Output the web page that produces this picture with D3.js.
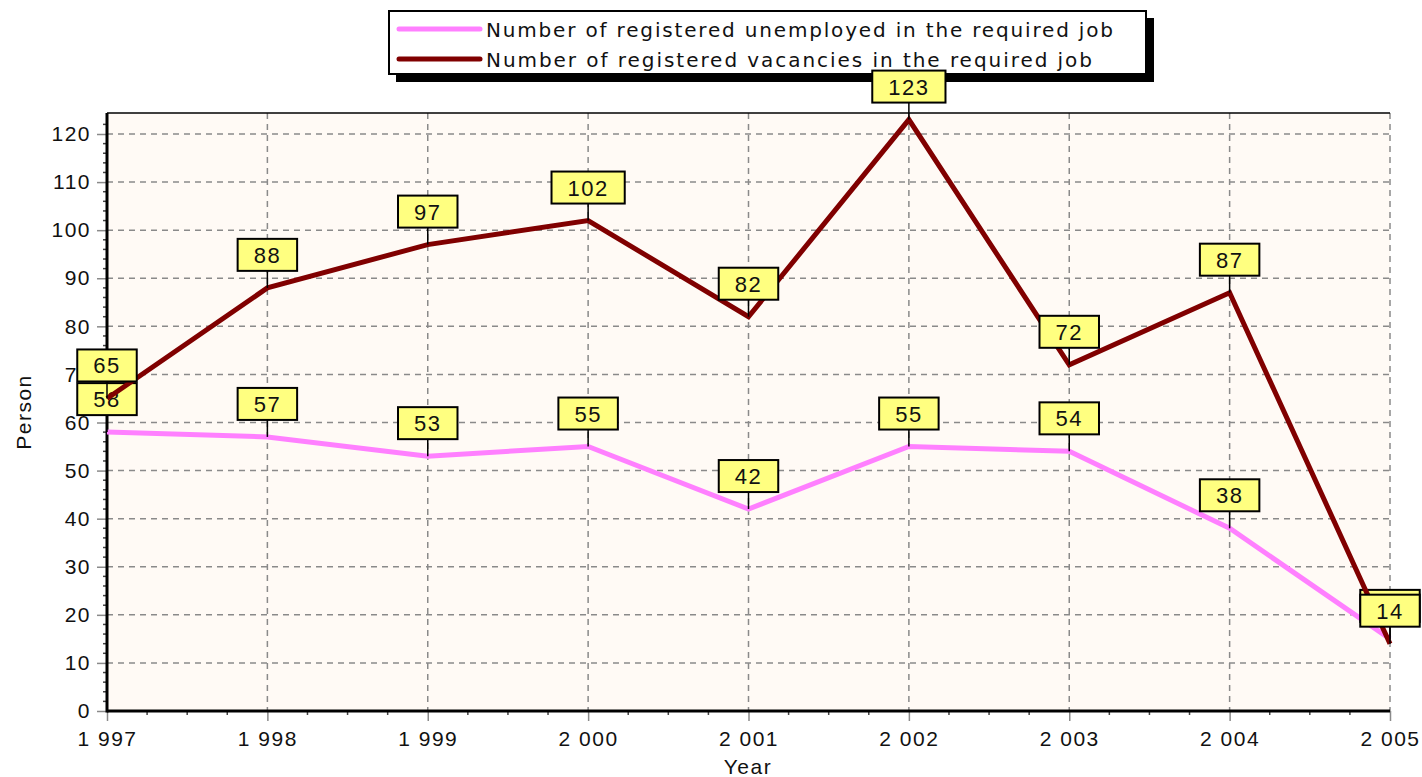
<!DOCTYPE html>
<html>
<head>
<meta charset="utf-8">
<script src="https://cdn.jsdelivr.net/npm/d3@7"></script>
<style>
  body { margin: 0; background: #ffffff; }
  svg { display: block; font-family: "Liberation Sans", Arial, sans-serif; }
</style>
</head>
<body>
<svg id="chart" width="1422" height="777"></svg>
<script>
// data
const years = [1997, 1998, 1999, 2000, 2001, 2002, 2003, 2004, 2005];
const yearLabels = ["1 997", "1 998", "1 999", "2 000", "2 001", "2 002", "2 003", "2 004", "2 005"];
const unemployed = [58, 57, 53, 55, 42, 55, 54, 38, 15];
const vacancies = [65, 88, 97, 102, 82, 123, 72, 87, 14];
const yTicks = [0, 10, 20, 30, 40, 50, 60, 70, 80, 90, 100, 110, 120];
const seriesNames = [
  "Number of registered unemployed in the required job",
  "Number of registered vacancies in the required job"
];
const seriesColors = ["#ff80ff", "#800000"];

const margin = { top: 113, right: 32, bottom: 66, left: 107 };
const width = 1422, height = 777;
const innerW = width - margin.left - margin.right;
const innerH = height - margin.top - margin.bottom;

const svg = d3.select("#chart");

const x = d3.scaleLinear().domain([1997, 2005]).range([margin.left, width - margin.right]);
const y = d3.scaleLinear().domain([0, 120]).range([height - margin.bottom, height - margin.bottom - 577]);

// plot background
svg.append("rect")
  .attr("x", margin.left).attr("y", margin.top)
  .attr("width", innerW).attr("height", innerH)
  .attr("fill", "#fffaf5");

// grid
const grid = svg.append("g").attr("stroke", "#8a8a8a").attr("stroke-width", 1.5).attr("stroke-dasharray", "6,5");
grid.selectAll("line.h").data(yTicks.filter(d => d > 0)).join("line")
  .attr("x1", margin.left).attr("x2", width - margin.right)
  .attr("y1", d => y(d)).attr("y2", d => y(d));
grid.selectAll("line.v").data(years.slice(1)).join("line")
  .attr("class", "v")
  .attr("x1", d => x(d)).attr("x2", d => x(d))
  .attr("y1", margin.top).attr("y2", height - margin.bottom);

// top border
svg.append("line")
  .attr("x1", margin.left).attr("x2", width - margin.right)
  .attr("y1", margin.top).attr("y2", margin.top)
  .attr("stroke", "#000").attr("stroke-width", 1.5);

// y axis
const yAxis = svg.append("g")
  .attr("transform", `translate(${margin.left},0)`)
  .call(d3.axisLeft(y).tickValues(yTicks).tickSize(10).tickPadding(6));
yAxis.select(".domain").remove();
yAxis.selectAll(".tick line").attr("stroke", "#8a8a8a").attr("stroke-width", 1.5);
yAxis.selectAll(".tick text")
  .attr("font-size", 21).attr("fill", "#111")
  .attr("letter-spacing", 1.5)
  .attr("font-family", "Liberation Sans, Arial, sans-serif");
// y minor ticks
svg.append("g").selectAll("line").data(d3.range(0, 124, 2).filter(d => d % 10 !== 0)).join("line")
  .attr("x1", margin.left - 4).attr("x2", margin.left)
  .attr("y1", d => y(d)).attr("y2", d => y(d))
  .attr("stroke", "#444").attr("stroke-width", 1.5);

// x axis
const xAxis = svg.append("g")
  .attr("transform", `translate(0,${height - margin.bottom})`)
  .call(d3.axisBottom(x).tickValues(years).tickFormat((d, i) => yearLabels[i]).tickSize(10).tickPadding(10));
xAxis.select(".domain").remove();
xAxis.selectAll(".tick line").attr("stroke", "#8a8a8a").attr("stroke-width", 1.5);
xAxis.selectAll(".tick text")
  .attr("font-size", 21).attr("fill", "#111")
  .attr("letter-spacing", 1.5)
  .attr("font-family", "Liberation Sans, Arial, sans-serif");
// x minor ticks (quarters)
svg.append("g").selectAll("line").data(d3.range(1997, 2005, 0.25).filter(d => d % 1 !== 0)).join("line")
  .attr("x1", d => x(d)).attr("x2", d => x(d))
  .attr("y1", height - margin.bottom).attr("y2", height - margin.bottom + 4)
  .attr("stroke", "#444").attr("stroke-width", 1.5);

// thick axis lines
svg.append("line")
  .attr("x1", margin.left).attr("x2", margin.left)
  .attr("y1", margin.top).attr("y2", height - margin.bottom + 1.5)
  .attr("stroke", "#000").attr("stroke-width", 3);
svg.append("line")
  .attr("x1", margin.left).attr("x2", width - margin.right)
  .attr("y1", height - margin.bottom).attr("y2", height - margin.bottom)
  .attr("stroke", "#000").attr("stroke-width", 3);

// axis titles
svg.append("text")
  .attr("x", 748).attr("y", 774)
  .attr("text-anchor", "middle").attr("font-size", 21).attr("letter-spacing", 1.5)
  .attr("fill", "#111").text("Year");
svg.append("text")
  .attr("transform", "translate(31,412) rotate(-90)")
  .attr("text-anchor", "middle").attr("font-size", 21).attr("letter-spacing", 1.5)
  .attr("fill", "#111").text("Person");

// legend (drawn under the value labels)
const legend = svg.append("g");
legend.append("rect")
  .attr("x", 396).attr("y", 18).attr("width", 758).attr("height", 64)
  .attr("fill", "#000");
legend.append("rect")
  .attr("x", 389).attr("y", 11).attr("width", 757).attr("height", 63)
  .attr("fill", "#fff").attr("stroke", "#000").attr("stroke-width", 2);
const items = legend.selectAll("g.item").data(seriesNames).join("g")
  .attr("class", "item")
  .attr("transform", (d, i) => `translate(0,${29 + i * 30})`);
items.append("line")
  .attr("x1", 399).attr("x2", 480).attr("y1", 0).attr("y2", 0)
  .attr("stroke", (d, i) => seriesColors[i]).attr("stroke-width", 5)
  .attr("stroke-linecap", "round");
items.append("text")
  .attr("x", 486).attr("y", 8)
  .attr("font-family", "DejaVu Sans, sans-serif")
  .attr("font-size", 20).attr("fill", "#111")
  .attr("textLength", (d, i) => i === 0 ? 627 : 606)
  .attr("lengthAdjust", "spacing")
  .text(d => d);

// series
const line = d3.line().x((d, i) => x(years[i])).y(d => y(d));

function drawSeries(values, color) {
  svg.append("path")
    .datum(values)
    .attr("d", line)
    .attr("fill", "none")
    .attr("stroke", color)
    .attr("stroke-width", 5)
    .attr("stroke-linejoin", "miter");

  const lab = svg.append("g").selectAll("g").data(values).join("g")
    .attr("transform", (d, i) => `translate(${x(years[i])},${y(d)})`);
  lab.append("line")
    .attr("x1", 0).attr("x2", 0).attr("y1", 0).attr("y2", -17)
    .attr("stroke", "#000").attr("stroke-width", 1.5);
  lab.append("rect")
    .attr("y", -49).attr("height", 32)
    .attr("fill", "#ffff80").attr("stroke", "#000").attr("stroke-width", 2);
  const txt = lab.append("text")
    .attr("y", -25).attr("text-anchor", "middle")
    .attr("font-size", 22).attr("letter-spacing", 1.5).attr("fill", "#111")
    .text(d => d);
  txt.each(function () {
    const w = this.getComputedTextLength();
    d3.select(this.parentNode).select("rect")
      .attr("x", -(w / 2 + 16)).attr("width", w + 32);
  });
}
drawSeries(unemployed, seriesColors[0]);
drawSeries(vacancies, seriesColors[1]);
</script>
</body>
</html>
